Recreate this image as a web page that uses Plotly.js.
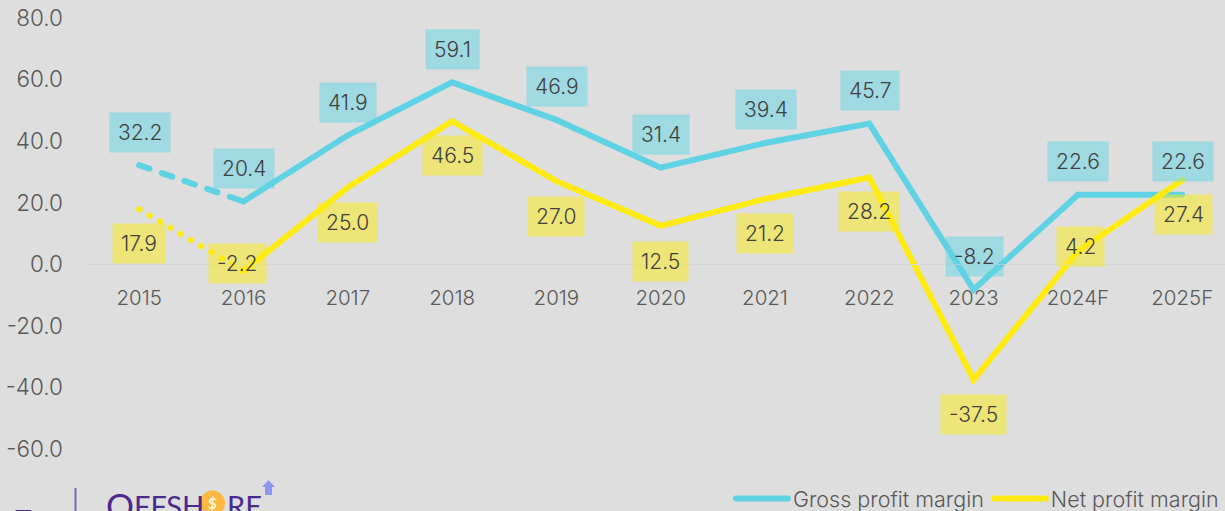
<!DOCTYPE html>
<html><head><meta charset="utf-8">
<script src="https://cdn.plot.ly/plotly-3.0.1.min.js"></script>
<style>
html,body{margin:0;padding:0;background:#dedede;overflow:hidden}
#chart{width:1225px;height:511px}
.scatterlayer .js-line,.legend .js-line{stroke-linecap:round}
</style></head><body><div id="chart"></div>
<script>
const years = ['2015','2016','2017','2018','2019','2020','2021','2022','2023','2024F','2025F'];
const grossMargin = [32.2,20.4,41.9,59.1,46.9,31.4,39.4,45.7,-8.2,22.6,22.6];
const netMargin = [17.9,-2.2,25.0,46.5,27.0,12.5,21.2,28.2,-37.5,4.2,27.4];
const yTicks = [80,60,40,20,0,-20,-40,-60];
const netLabelYShift = [-34,8,-35,-34,-35,-35,-34,-34,-34,5,-34];
const netLabelXShift = [0,-6,0,0,0,0,0,0,0,3,1];

const W=1225,H=511,L=87,T=18,B=62,R=0;
const CYAN='#5fd3e4',YEL='#fdeb13',TICK='#595959',LBL='#404040',PUR='#4a2a8c';
const FONT='Inter, sans-serif';
const px=x=>(x-L)/(W-L-R), py=y=>1-(y-T)/(H-T-B);

function line(name,x,y,color,dash,legend){
  return {type:'scatter',mode:'lines',name,x,y,showlegend:legend,hoverinfo:'skip',
    line:{color,width:6,dash,shape:'linear'}};
}
const data=[
  line('Gross profit margin',years.slice(1),grossMargin.slice(1),CYAN,'solid',true),
  line('Net profit margin',years.slice(1),netMargin.slice(1),YEL,'solid',true),
  line('Gross profit margin 2015',years.slice(0,2),grossMargin.slice(0,2),CYAN,'11px,13px',false),
  line('Net profit margin 2015',years.slice(0,2),netMargin.slice(0,2),YEL,'0.5px,11.5px',false)
];
const box=(i,v,xs,ys,bg)=>({x:i,y:v,xref:'x',yref:'y',text:v.toFixed(1),showarrow:false,
  xanchor:'center',yanchor:'middle',xshift:xs,yshift:ys,bgcolor:bg,borderpad:8,height:23,
  font:{family:FONT,size:21,weight:300,color:LBL}});
const annotations=[
  ...years.map((y,i)=>box(i,grossMargin[i],0.5,33,'rgba(95,211,228,0.5)')),
  ...years.map((y,i)=>box(i,netMargin[i],netLabelXShift[i],netLabelYShift[i]-0.5,'rgba(253,235,19,0.5)'))
];
const logoText=(t,x,y,size,color,weight,anchor)=>({xref:'paper',yref:'paper',x:px(x),y:py(y),text:t,showarrow:false,
  xanchor:anchor||'left',yanchor:'middle',borderpad:0,font:{family:'Lato, sans-serif',size,color,weight:weight||400}});
annotations.push(
  logoText('O',105,505,35,PUR),
  logoText('FFSH',133,505,29,PUR),
  logoText('RE',226,505,29,PUR),
  logoText('$',212.5,503,15,'#fff6d8',700,'center'),
  logoText('F',12,521,34,PUR,700)
);
const shapes=[
  {type:'line',xref:'paper',yref:'paper',x0:px(75.5),x1:px(75.5),y0:py(488),y1:py(511),line:{color:'#7a68b8',width:2}},
  {type:'circle',xref:'paper',yref:'paper',x0:px(200),x1:px(225),y0:py(490.5),y1:py(515.5),fillcolor:'#fdb841',line:{width:0}},
  {type:'path',xref:'paper',yref:'paper',
   path:`M ${px(268.5)} ${py(480)} L ${px(275)} ${py(487)} L ${px(272)} ${py(487)} L ${px(272)} ${py(495)} L ${px(265)} ${py(495)} L ${px(265)} ${py(487)} L ${px(262)} ${py(487)} Z`,
   fillcolor:'#8f96f2',line:{width:0}}
];
const layout={
  width:W,height:H,paper_bgcolor:'#dedede',plot_bgcolor:'#dedede',
  margin:{l:L,r:R,t:T,b:B,autoexpand:false},
  font:{family:FONT,color:TICK},
  xaxis:{type:'category',categoryorder:'array',categoryarray:years,range:[-0.5,10.41],
    anchor:'free',position:60/140,showline:true,linecolor:'#d6d6d6',linewidth:1,showgrid:false,zeroline:false,
    ticks:'',tickfont:{family:FONT,size:20.5,weight:300,color:TICK},ticklabelstandoff:15,fixedrange:true},
  yaxis:{range:[-60,80],tickvals:yTicks,ticktext:yTicks.map(v=>v.toFixed(1)),showgrid:false,zeroline:false,showline:false,
    ticks:'',tickfont:{family:FONT,size:22.5,weight:300,color:TICK},ticklabelstandoff:23,fixedrange:true},
  showlegend:true,
  legend:{orientation:'h',x:px(731),xanchor:'left',y:py(478),yanchor:'top',bgcolor:'rgba(0,0,0,0)',
    itemwidth:52,tracegroupgap:0,font:{family:FONT,size:21.5,weight:300,color:TICK},traceorder:'normal'},
  annotations,shapes
};
Plotly.newPlot('chart',data,layout,{displayModeBar:false,responsive:false});
</script></body></html>
